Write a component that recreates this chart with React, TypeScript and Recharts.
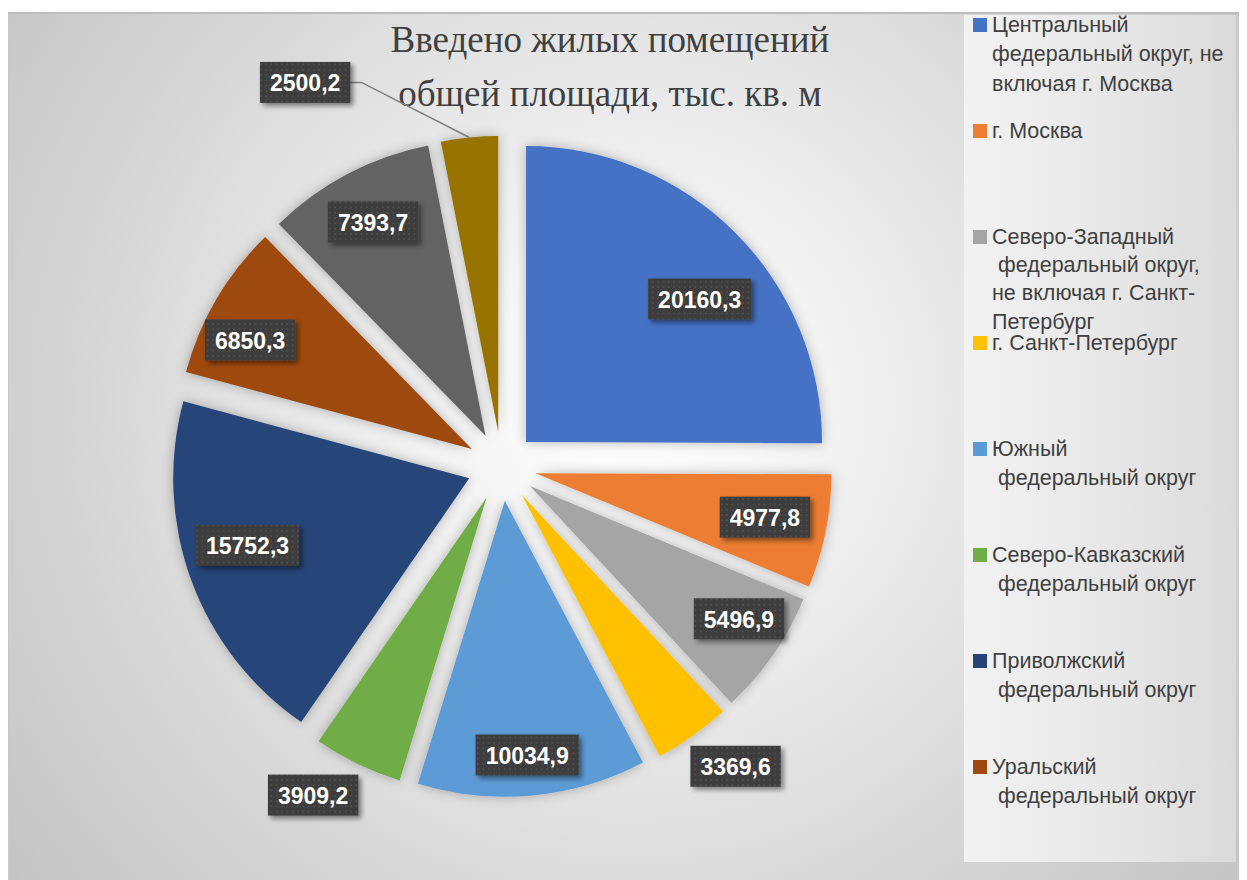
import React from 'react';
import { PieChart, Pie, Cell, Sector, Legend } from 'recharts';

// ---- data ----
const categories = [
  'Центральный федеральный округ, не включая г. Москва',
  'г. Москва',
  'Северо-Западный федеральный округ, не включая г. Санкт-Петербург',
  'г. Санкт-Петербург',
  'Южный федеральный округ',
  'Северо-Кавказский федеральный округ',
  'Приволжский федеральный округ',
  'Уральский федеральный округ',
  'Сибирский федеральный округ',
  'Дальневосточный федеральный округ',
];
const values = [20160.3, 4977.8, 5496.9, 3369.6, 10034.9, 3909.2, 15752.3, 6850.3, 7393.7, 2500.2];
const legendLines = [
  ['Центральный', 'федеральный округ, не', 'включая г. Москва'],
  ['г. Москва'],
  ['Северо-Западный', ' федеральный округ,', 'не включая г. Санкт-', 'Петербург'],
  ['г. Санкт-Петербург'],
  ['Южный', ' федеральный округ'],
  ['Северо-Кавказский', ' федеральный округ'],
  ['Приволжский', ' федеральный округ'],
  ['Уральский', ' федеральный округ'],
];
const titleLines = ['Введено жилых помещений', 'общей площади, тыс. кв. м'];

// ---- styles / layout ----
const COLORS = ['#4472C4', '#ED7D31', '#A5A5A5', '#FFC000', '#5B9BD5', '#70AD47', '#264478', '#9E480E', '#636363', '#997300'];
// label placement: [radius factor from pie centre, clockwise angle shift in degrees]
const LABEL_PLACE: [number, number][] = [
  [0.876, 4.7], [0.906, -0.45], [0.953, -2.1], [1.285, -2.6], [0.979, 0.3],
  [1.28, 4.0], [0.899, 2.9], [0.951, -3.7], [0.933, 0], [1.457, -21.5],
];
const LEADER = [false, false, false, false, false, false, false, false, false, true];
const EXPLODE = 34.5;
const RAD = Math.PI / 180;

const data = categories.map((name, i) => ({ name, value: values[i] }));

const fmt = (v: number) => v.toFixed(1).replace('.', ',');
const textWidth = (s: string) => s.split('').reduce((a, c) => a + (c === ',' ? 6.4 : 12.8), 0);

const renderSector = (props: any) => {
  const { cx, cy, innerRadius, outerRadius, startAngle, endAngle, midAngle, fill } = props;
  const dx = EXPLODE * Math.cos(-midAngle * RAD);
  const dy = EXPLODE * Math.sin(-midAngle * RAD);
  return (
    <Sector
      cx={cx + dx}
      cy={cy + dy}
      innerRadius={innerRadius}
      outerRadius={outerRadius}
      startAngle={startAngle}
      endAngle={endAngle}
      fill={fill}
      stroke="none"
      filter="url(#sliceShadow)"
    />
  );
};

const renderLabel = (props: any) => {
  const { cx, cy, midAngle, outerRadius, index, value } = props;
  const [f, shift] = LABEL_PLACE[index];
  const ang = midAngle - shift;
  const x = cx + outerRadius * f * Math.cos(-ang * RAD);
  const y = cy + outerRadius * f * Math.sin(-ang * RAD);
  const txt = fmt(value);
  const w = textWidth(txt) + 20;
  const h = 41;
  let leader = null;
  if (LEADER[index]) {
    const ex = cx + (EXPLODE + outerRadius) * Math.cos(-midAngle * RAD);
    const ey = cy + (EXPLODE + outerRadius) * Math.sin(-midAngle * RAD);
    const sx = x + w / 2;
    leader = (
      <polyline
        points={`${sx},${y} ${sx + 11},${y} ${ex},${ey}`}
        fill="none"
        stroke="#7f7f7f"
        strokeWidth={1.5}
      />
    );
  }
  return (
    <g>
      {index === 0 && (
        <defs>
          <pattern id="dots" width="5.3" height="5.3" patternUnits="userSpaceOnUse">
            <rect width="5.3" height="5.3" fill="#3d3d3d" />
            <rect x="2" y="2" width="1.4" height="1.4" fill="#5a5a5a" />
          </pattern>
          <filter id="boxShadow" x="-30%" y="-30%" width="160%" height="180%">
            <feDropShadow dx="3" dy="3" stdDeviation="2.5" floodColor="#000" floodOpacity="0.45" />
          </filter>
          <filter id="sliceShadow" x="-20%" y="-20%" width="140%" height="140%">
            <feDropShadow dx="0" dy="0" stdDeviation="6" floodColor="#000" floodOpacity="0.28" />
          </filter>
        </defs>
      )}
      {leader}
      <rect x={x - w / 2} y={y - h / 2} width={w} height={h} fill="url(#dots)" filter="url(#boxShadow)" />
      <text
        x={x}
        y={y + 1}
        textAnchor="middle"
        dominantBaseline="central"
        fill="#ffffff"
        fontFamily="'Liberation Sans', Arial, sans-serif"
        fontWeight="bold"
        fontSize={23}
      >
        {txt}
      </text>
    </g>
  );
};

const LINE_H = 21;
const renderLegend = () => {
  return (
    <div
      style={{
        width: 272,
        height: 847,
        position: 'relative',
        background: 'linear-gradient(90deg, #f2f2f2 0%, #e6e6e6 60%, #dadada 100%)',
        fontFamily: "'Liberation Sans', Arial, sans-serif",
        fontSize: 21.5,
        color: '#404040',
      }}
    >
      {legendLines.map((lines, i) => {
        const firstCenter = 10 + 106 * i;
        const step = lines.length > 3 ? 28.4 : 29.5;
        return (
          <div key={i} style={{ position: 'absolute', left: 0, top: 0, width: 272 }}>
            <div
              style={{
                position: 'absolute',
                left: 9,
                top: firstCenter - 7,
                width: 14,
                height: 14,
                background: COLORS[i],
              }}
            />
            {lines.map((ln, j) => (
              <div
                key={j}
                style={{
                  position: 'absolute',
                  left: 28,
                  top: firstCenter + j * step - LINE_H / 2,
                  height: LINE_H,
                  lineHeight: `${LINE_H}px`,
                  whiteSpace: 'pre',
                }}
              >
                {ln}
              </div>
            ))}
          </div>
        );
      })}
    </div>
  );
};

export default function App() {
  return (
    <div style={{ paddingTop: 4 }}>
      <div
        style={{
          position: 'relative',
          width: 1239,
          height: 868,
          background:
            'radial-gradient(circle farthest-corner at 50% 45%, #ffffff 0%, #f6f6f6 20%, #e6e6e6 45%, #d4d4d4 72%, #c4c4c4 100%)',
          borderTop: '2px solid #bcbcbc',
          borderLeft: '1px solid #c8c8c8',
          boxSizing: 'border-box',
        }}
      >
        <div
          style={{
            position: 'absolute',
            left: 301,
            top: -1.5,
            width: 600,
            textAlign: 'center',
            fontFamily: "'Liberation Serif', 'Times New Roman', serif",
            fontSize: 37,
            lineHeight: '54px',
            color: '#404040',
          }}
        >
          {titleLines.map((t, i) => (
            <div key={i}>{t}</div>
          ))}
        </div>
        <PieChart width={1238} height={866} margin={{ top: 0, right: 0, bottom: 0, left: 0 }}>
          <Pie
            data={data}
            dataKey="value"
            nameKey="name"
            cx={492.6}
            cy={452.4}
            innerRadius={0}
            outerRadius={296}
            startAngle={90}
            endAngle={-270}
            stroke="none"
            isAnimationActive={false}
            shape={renderSector}
            label={renderLabel}
            labelLine={false}
          >
            {data.map((d, i) => (
              <Cell key={d.name} fill={COLORS[i]} />
            ))}
          </Pie>
          <Legend
            layout="vertical"
            align="right"
            verticalAlign="top"
            width={272}
            height={847}
            content={renderLegend}
            wrapperStyle={{ position: 'absolute', left: 955, top: 1, width: 272, height: 847 }}
          />
        </PieChart>
      </div>
    </div>
  );
}
